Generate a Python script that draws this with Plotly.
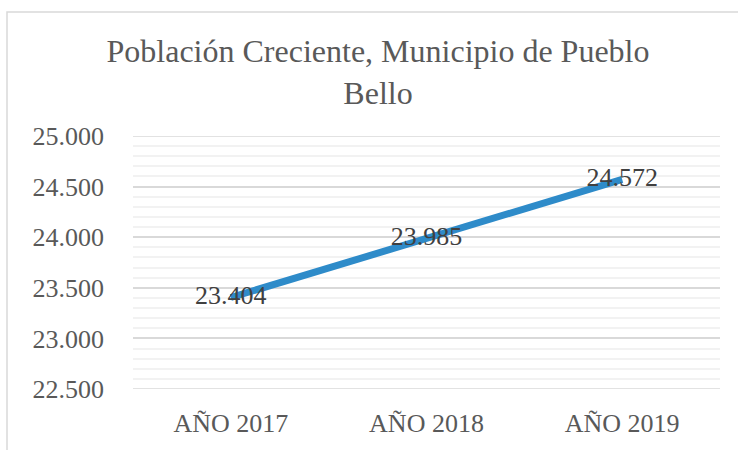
import plotly.graph_objects as go

categories = ["AÑO 2017", "AÑO 2018", "AÑO 2019"]
population = [23404, 23985, 24572]
y_ticks = [22500, 23000, 23500, 24000, 24500, 25000]

FONT = "Liberation Serif"

fig = go.Figure()
fig.add_trace(go.Scatter(
    x=categories, y=population, mode="lines+text",
    line=dict(color="#2E8BC9", width=7),
    texttemplate="%{y:,.0f}", textposition="middle center",
    textfont=dict(family=FONT, size=26, color="#404040"),
    hoverinfo="skip", showlegend=False, cliponaxis=False,
))

L, R, T, B = 133, 18, 136, 57
W, H = 738, 450
pw, ph = W - L - R, H - T - B

def px_x(p): return (p - L) / pw
def px_y(p): return (H - B - p) / ph

shapes = [dict(type="rect", xref="paper", yref="paper",
               x0=px_x(7), x1=px_x(745), y0=px_y(460), y1=px_y(10),
               line=dict(color="#d9d9d9", width=1.5), layer="below")]
# edge gridlines (plotly omits gridlines lying on the plot-area boundary)
for v in (y_ticks[0], y_ticks[-1]):
    shapes.append(dict(type="line", xref="paper", yref="y", x0=0, x1=1,
                       y0=v, y1=v, line=dict(color="#d9d9d9", width=1.5),
                       layer="below"))

fig.update_layout(
    width=W, height=H,
    margin=dict(l=L, r=R, t=T, b=B),
    paper_bgcolor="white", plot_bgcolor="white",
    separators=",.",
    font=dict(family=FONT, color="#595959"),
    title=dict(text="Población Creciente, Municipio de Pueblo<br>Bello",
               x=378 / W, xref="container", xanchor="center",
               y=1 - 62 / H, yanchor="middle", yref="container",
               font=dict(family=FONT, size=32, color="#595959")),
    xaxis=dict(type="category", range=[-0.5, 2.5], showgrid=False,
               showline=False, ticks="", zeroline=False,
               ticklabelstandoff=16,
               tickfont=dict(family=FONT, size=26, color="#595959")),
    yaxis=dict(range=[22500, 25000], tickvals=y_ticks, tickformat=",.0f",
               showgrid=True, gridcolor="#d9d9d9", gridwidth=1.5,
               zeroline=False, showline=False, ticks="",
               ticklabelstandoff=28,
               tickfont=dict(family=FONT, size=26, color="#595959"),
               minor=dict(dtick=100, showgrid=True, gridcolor="#f2f2f2",
                          gridwidth=1.5)),
    shapes=shapes,
)

fig.write_html("out.html", config={"displayModeBar": False},
               post_script="document.body.style.margin='0px';")
